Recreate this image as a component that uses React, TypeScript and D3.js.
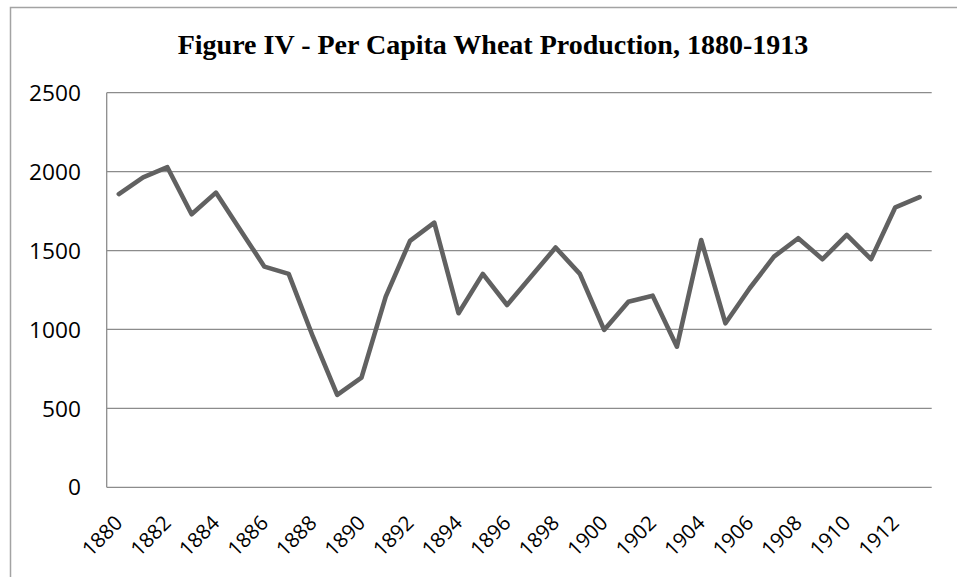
import React, { useEffect, useRef } from "react";
import * as d3 from "d3";

const years: number[] = d3.range(1880, 1914);
const production: number[] = [
  1858, 1964, 2028, 1730, 1867, 1632, 1398, 1352, 954, 585,
  695, 1208, 1561, 1677, 1103, 1352, 1155, 1337, 1519, 1352,
  997, 1176, 1214, 891, 1567, 1039, 1261, 1461, 1578, 1445,
  1599, 1445, 1774, 1838,
];
const yTicks: number[] = [0, 500, 1000, 1500, 2000, 2500];
const xTickLabels: string[] = d3.range(1880, 1914, 2).map(String);

const W = 957;
const H = 577;

const App = () => {
  const svgRef = useRef<SVGSVGElement>(null);

  useEffect(() => {
    const left = 106.7;
    const right = 931.7;
    const top = 92.7;
    const bottom = 487.3;

    const svg = d3.select(svgRef.current);
    svg.selectAll("*").remove();

    // outer frame (only left and top edges are visible in the picture)
    svg
      .append("rect")
      .attr("x", 10.5)
      .attr("y", 7.5)
      .attr("width", W + 20)
      .attr("height", H + 20)
      .attr("fill", "none")
      .attr("stroke", "#a3a3a3")
      .attr("stroke-width", 1.5);

    svg
      .append("text")
      .attr("x", 493)
      .attr("y", 54)
      .attr("text-anchor", "middle")
      .attr("font-family", "'Liberation Serif', 'Times New Roman', serif")
      .attr("font-weight", "bold")
      .attr("font-size", 28)
      .attr("fill", "#000")
      .text("Figure IV - Per Capita Wheat Production, 1880-1913");

    const x = d3
      .scaleBand<string>()
      .domain(years.map(String))
      .range([left, right]);

    const y = d3.scaleLinear().domain([0, 2500]).range([bottom, top]);

    // gridlines
    svg
      .append("g")
      .selectAll("line")
      .data(yTicks)
      .enter()
      .append("line")
      .attr("x1", left)
      .attr("x2", right)
      .attr("y1", (d) => y(d))
      .attr("y2", (d) => y(d))
      .attr("stroke", "#8c8c8c")
      .attr("stroke-width", 1.3);

    // left axis line
    svg
      .append("line")
      .attr("x1", left)
      .attr("x2", left)
      .attr("y1", top)
      .attr("y2", bottom)
      .attr("stroke", "#8c8c8c")
      .attr("stroke-width", 1.3);

    svg
      .append("g")
      .selectAll("text")
      .data(yTicks)
      .enter()
      .append("text")
      .attr("x", 81)
      .attr("y", (d) => y(d))
      .attr("dy", "0.36em")
      .attr("text-anchor", "end")
      .attr("font-family", "'Open Sans', sans-serif")
      .attr("font-size", 22.7)
      .attr("fill", "#000")
      .text((d) => d);

    svg
      .append("g")
      .selectAll("text")
      .data(xTickLabels)
      .enter()
      .append("text")
      .attr(
        "transform",
        (d) => `translate(${x(d)! + x.bandwidth() / 2 + 5},${bottom + 37}) rotate(-45)`
      )
      .attr("text-anchor", "end")
      .attr("font-family", "'Open Sans', sans-serif")
      .attr("font-size", 20.5)
      .attr("fill", "#000")
      .text((d) => d);

    const line = d3
      .line<number>()
      .x((_, i) => x(String(years[i]))! + x.bandwidth() / 2)
      .y((d) => y(d));

    svg
      .append("path")
      .datum(production)
      .attr("d", line)
      .attr("fill", "none")
      .attr("stroke", "#616161")
      .attr("stroke-width", 4.6)
      .attr("stroke-linejoin", "round")
      .attr("stroke-linecap", "round");
  }, []);

  return (
    <div style={{ position: "absolute", left: 0, top: 0 }}>
      <svg ref={svgRef} width={W} height={H} style={{ display: "block", background: "#fff" }} />
    </div>
  );
};

export default App;
